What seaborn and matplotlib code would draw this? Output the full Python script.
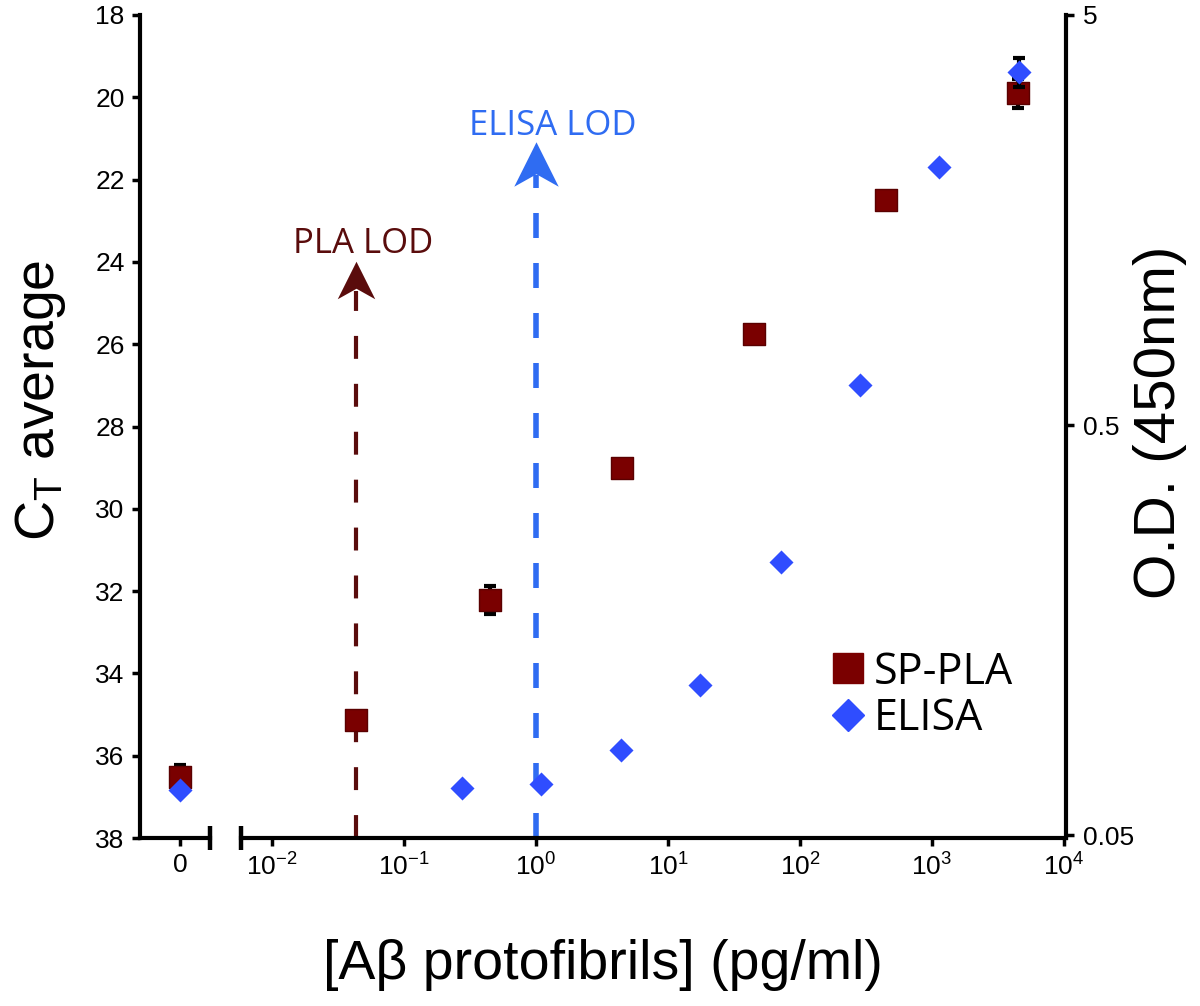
import numpy as np
import pandas as pd
import matplotlib
matplotlib.use("Agg")
import matplotlib.pyplot as plt
import seaborn as sns
from matplotlib.path import Path
from matplotlib.lines import Line2D

# ---------------- data ----------------
pla_conc = [0.043, 0.45, 4.5, 45, 450, 4500]          # pg/ml
pla_ct = [35.13, 32.22, 29.01, 25.75, 22.50, 19.90]   # CT average
pla_err = [0.1, 0.34, 0.1, 0.1, 0.1, 0.35]
pla_zero_ct = [36.52]
pla_zero_err = [0.3]

elisa_conc = [0.275, 1.09, 4.4, 17.6, 71.8, 285, 1130, 4560]
elisa_od = [0.0652, 0.0666, 0.0805, 0.116, 0.232, 0.626, 2.13, 3.63]
elisa_err = [0, 0, 0, 0, 0, 0, 0, 0.3]
elisa_zero_od = [0.0644]

pla_lod = 0.043
elisa_lod = 1.0

ct_ticks = list(range(18, 39, 2))
od_ticks = [0.05, 0.5, 5]
od_tick_labels = ["0.05", "0.5", "5"]
x_ticks = [1e-2, 1e-1, 1e0, 1e1, 1e2, 1e3, 1e4]
x_tick_labels = ["$10^{-2}$", "$10^{-1}$", "$10^{0}$", "$10^{1}$",
                 "$10^{2}$", "$10^{3}$", "$10^{4}$"]

# ---------------- style ----------------
sns.set_style("white")
plt.rcParams['font.family'] = ['Liberation Sans', 'DejaVu Sans']
plt.rcParams['mathtext.fontset'] = 'custom'
plt.rcParams['mathtext.rm'] = 'Liberation Sans'
plt.rcParams['mathtext.it'] = 'Liberation Sans:italic'
plt.rcParams['mathtext.bf'] = 'Liberation Sans:bold'
for k in ('text.color', 'axes.labelcolor', 'xtick.color', 'ytick.color'):
    plt.rcParams[k] = 'black'

RED = '#7a0000'
BLUE = '#2f4dff'
LOD_RED = '#5a0c0c'
LOD_BLUE = '#2f6cf2'

W, H = 1200, 1006
fig = plt.figure(figsize=(12, 10.06), dpi=100)
def fx(px): return px / W
def fy(py): return 1 - py / H

axL = fig.add_axes([fx(140), fy(838), fx(210) - fx(140), fy(15) - fy(838)])
axR = fig.add_axes([fx(241), fy(838), fx(1066) - fx(241), fy(15) - fy(838)])
axL2 = axL.twinx()
axR2 = axR.twinx()

for a in (axL, axR, axL2, axR2):
    a.set_facecolor('none')
    for s in a.spines.values():
        s.set_visible(False)
        s.set_linewidth(3)
        s.set_color('black')

# ---- left (zero) panel ----
axL.spines['left'].set_visible(True)
axL.spines['bottom'].set_visible(True)
axL.set_xlim(-4, 3)
axL.set_ylim(38, 18)
axL.set_xticks([0])
axL.set_xticklabels(["0"])
axL.set_yticks(ct_ticks)
axL.tick_params(axis='both', direction='out', length=6, width=2.5, labelsize=19,
                pad=5, color='black', left=True, bottom=True)

axL2.set_yscale('log')
axL2.set_ylim(0.0492, 5.0)
axL2.set_yticks([])
axL2.minorticks_off()
axL2.tick_params(right=False, labelright=False)

# ---- right (log) panel ----
axR.spines['bottom'].set_visible(True)
axR.set_xscale('log')
axR.set_xlim(10 ** -2.235, 10 ** 4.015)
axR.set_ylim(38, 18)
axR.set_xticks(x_ticks)
axR.set_xticklabels(x_tick_labels)
axR.xaxis.set_minor_locator(matplotlib.ticker.NullLocator())
axR.set_yticks([])
axR.tick_params(axis='x', direction='out', length=6, width=2.5, labelsize=19,
                pad=5, bottom=True)

axR2.spines['right'].set_visible(True)
axR2.set_yscale('log')
axR2.set_ylim(0.0492, 5.0)
axR2.set_yticks(od_ticks)
axR2.set_yticklabels(od_tick_labels)
axR2.yaxis.set_minor_locator(matplotlib.ticker.NullLocator())
axR2.tick_params(axis='y', direction='out', length=6, width=2.5, labelsize=19,
                 pad=6, right=True)

# break marks
for a, xpos in ((axL, 1.0), (axR, 0.0)):
    a.add_line(Line2D([xpos, xpos], [-0.014, 0.014], transform=a.transAxes,
                      color='black', lw=3.2, clip_on=False, solid_capstyle='butt'))

# ---------------- data marks ----------------
df_pla = pd.DataFrame({'conc': pla_conc, 'ct': pla_ct, 'err': pla_err})
df_el = pd.DataFrame({'conc': elisa_conc, 'od': elisa_od, 'err': elisa_err})

# error bars
axR.errorbar(df_pla['conc'], df_pla['ct'], yerr=df_pla['err'], fmt='none',
             ecolor='black', elinewidth=3, capsize=4, capthick=3, zorder=1)
axL.errorbar([0], pla_zero_ct, yerr=pla_zero_err, fmt='none',
             ecolor='black', elinewidth=3, capsize=4, capthick=3, zorder=1)
axR2.errorbar(df_el['conc'], df_el['od'], yerr=df_el['err'], fmt='none',
              ecolor='black', elinewidth=3, capsize=4, capthick=3, zorder=1)

# LOD lines
axR.plot([pla_lod, pla_lod], [38, 24.7], color=LOD_RED, lw=3,
         ls=(0, (5.5, 6)), zorder=0.5, solid_capstyle='butt')
axR.plot([elisa_lod, elisa_lod], [38, 21.9], color=LOD_BLUE, lw=4,
         ls=(0, (4.5, 4.5)), zorder=0.5)

arrow = Path([(0, 0.5), (0.5, -0.5), (0, -0.22), (-0.5, -0.5), (0, 0.5)],
             [Path.MOVETO, Path.LINETO, Path.LINETO, Path.LINETO, Path.CLOSEPOLY])
axR.plot([pla_lod], [24.44], marker=arrow, ms=27, color=LOD_RED, ls='', mew=0)
axR.plot([elisa_lod], [21.62], marker=arrow, ms=32, color=LOD_BLUE, ls='', mew=0)

axR.text(pla_lod * 1.13, 23.78, "PLA LOD", color=LOD_RED, ha='center',
         va='baseline', fontsize=25, family=['Open Sans', 'DejaVu Sans'])
axR.text(elisa_lod * 1.345, 20.92, "ELISA LOD", color=LOD_BLUE, ha='center',
         va='baseline', fontsize=25, family=['Open Sans', 'DejaVu Sans'])

# markers
sns.scatterplot(data=df_pla, x='conc', y='ct', ax=axR, marker='s', s=240,
                color=RED, edgecolor='#5a0000', linewidth=1, zorder=3, legend=False)
sns.scatterplot(x=[0], y=pla_zero_ct, ax=axL, marker='s', s=240,
                color=RED, edgecolor='#5a0000', linewidth=1, zorder=3, legend=False)
sns.scatterplot(data=df_el, x='conc', y='od', ax=axR2, marker='D', s=150,
                color=BLUE, edgecolor=BLUE, linewidth=0, zorder=3, legend=False)
sns.scatterplot(x=[0], y=elisa_zero_od, ax=axL2, marker='D', s=150,
                color=BLUE, edgecolor=BLUE, linewidth=0, zorder=3, legend=False)

for a in (axL, axR):
    a.set_xlabel('')
axL2.set_ylabel('')

# ---------------- labels ----------------
axL.set_ylabel("C$_{\\mathrm{T}}$ average", fontsize=40)
axL.yaxis.label.set_va('center')
axL.yaxis.set_label_coords(-100 / 70, (838 - 400) / 823)

axR.set_xlabel("[A\u03b2 protofibrils] (pg/ml)", fontsize=40)
axR.xaxis.label.set_va('center')
axR.xaxis.set_label_coords((603 - 241) / 825, (838 - 965) / 823)

axR2.set_ylabel("O.D. (450nm)", fontsize=42)
axR2.yaxis.label.set_va('center')
axR2.yaxis.set_label_coords((1160 - 241) / 825, (838 - 422) / 823)

# legend
handles = [Line2D([], [], marker='s', color=RED, ls='', ms=22),
           Line2D([], [], marker='D', color=BLUE, ls='', ms=16)]
fig.legend(handles, ["SP-PLA", "ELISA"], loc='upper left',
           bbox_to_anchor=(fx(826), fy(650)), frameon=False,
           prop={'family': ['Open Sans', 'DejaVu Sans'], 'size': 31},
           handletextpad=0.1, handlelength=1.0, borderaxespad=0, borderpad=0,
           labelspacing=0.05)

fig.savefig("out.png", dpi=100)
